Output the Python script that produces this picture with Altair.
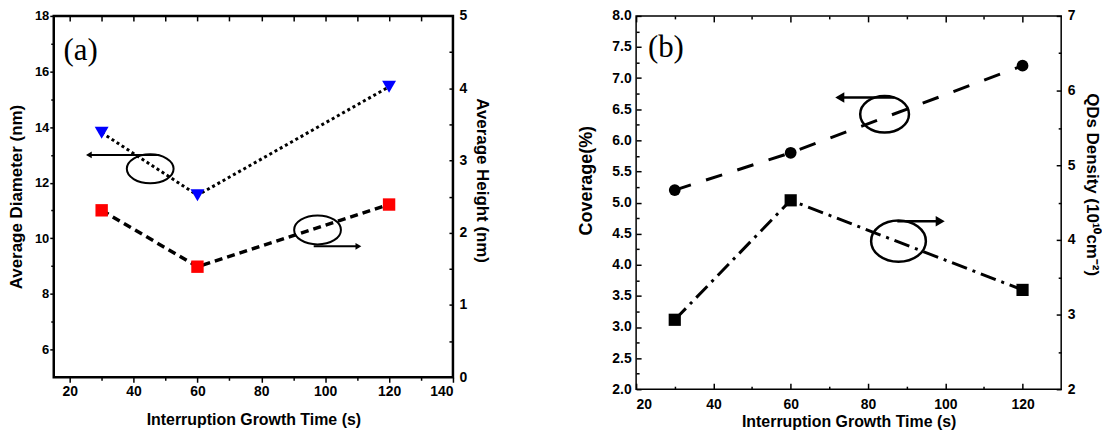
import altair as alt
import pandas as pd

# ---- data ----
time_a = [30, 60, 120]
diameter_nm = [13.8, 11.55, 15.45]
height_nm = [2.31, 1.53, 2.39]

time_b = [30, 60, 120]
coverage_pct = [5.2, 5.8, 7.2]
density_1e10 = [2.93, 4.53, 3.33]

# annotation guides (ellipse + arrow showing which axis each series uses)
ell_a_x = [45.2, 97.6]
ell_a_y = [12.5, 10.3]
ell_a_w = [47, 47]
arr_a_x = [48, 96.4]
arr_a_x2 = [26, 110.4]
arr_a_y = [13.0, 9.71]
arr_a_dir = ["triangle-left", "triangle-right"]

ell_b_x = [84.3, 87.9]
ell_b_y = [6.42, 4.38]
ell_b_w = [49, 55]
arr_b_x = [86.8, 87.6]
arr_b_x2 = [72.7, 98.7]
arr_b_y = [6.69, 4.70]
arr_b_dir = ["triangle-left", "triangle-right"]

FONT = "Liberation Sans, Arial, sans-serif"
W_A, H_A = 401, 363
W_B, H_B = 427, 375


def ellipse_path(k):
    c = 0.5523
    return (f"M -1 0 C -1 {-c*k:.4f} {-c:.4f} {-k:.4f} 0 {-k:.4f} "
            f"C {c:.4f} {-k:.4f} 1 {-c*k:.4f} 1 0 "
            f"C 1 {c*k:.4f} {c:.4f} {k:.4f} 0 {k:.4f} "
            f"C {-c:.4f} {k:.4f} -1 {c*k:.4f} -1 0 Z")


def sc(lo, hi):
    return alt.Scale(domain=[lo, hi], nice=False, zero=False)


def tick_axis(values, size, orient, offset=0):
    return alt.Axis(values=values, labels=False, domain=False, tickSize=size,
                    orient=orient, offset=offset, title=None, grid=False,
                    tickColor="black", tickWidth=1.5)


# ================= panel (a) =================
df_a = pd.DataFrame({"t": time_a, "d": diameter_nm, "h": height_nm})
xs_a = sc(15, 140)
yl_a = sc(5, 18)
yr_a = sc(0, 5)

a_diam_line = alt.Chart(df_a).mark_line(
    color="black", strokeWidth=3, strokeDash=[3, 3]
).encode(
    x=alt.X("t:Q", scale=xs_a, axis=alt.Axis(
        values=list(range(20, 141, 20)), tickSize=5, labelPadding=2, labelFontSize=14,
        title="Interruption Growth Time (s)", titleFontSize=16, titlePadding=13,
        orient="bottom")),
    y=alt.Y("d:Q", scale=yl_a, axis=alt.Axis(
        values=list(range(6, 19, 2)), tickSize=4, labelPadding=1, labelFontSize=13,
        title="Average Diameter (nm)", titleFontSize=17, titlePadding=9, orient="left")),
)
a_diam_pts = alt.Chart(df_a).mark_point(
    shape="triangle-down", filled=True, color="#0000ff", size=195, opacity=1
).encode(x=alt.X("t:Q", scale=xs_a, axis=None), y=alt.Y("d:Q", scale=yl_a, axis=None))

a_h_line = alt.Chart(df_a).mark_line(
    color="black", strokeWidth=3.5, strokeDash=[8, 5]
).encode(
    x=alt.X("t:Q", scale=xs_a, axis=None),
    y=alt.Y("h:Q", scale=yr_a, axis=alt.Axis(
        values=[0, 1, 2, 3, 4, 5], ticks=False, tickSize=0, labelPadding=6,
        labelFontSize=14, title="Average Height (nm)", titleFontSize=17,
        titlePadding=6, orient="right", titleY=165)),
)
a_h_pts = alt.Chart(df_a).mark_point(
    shape="square", filled=True, color="#ff0000", size=155, opacity=1
).encode(x=alt.X("t:Q", scale=xs_a, axis=None), y=alt.Y("h:Q", scale=yr_a, axis=None))

a_minor = alt.Chart(df_a).mark_point(opacity=0).encode(
    x=alt.X("t:Q", scale=xs_a, axis=tick_axis(list(range(30, 140, 20)), 3, "bottom")),
    y=alt.Y("d:Q", scale=yl_a, axis=tick_axis(list(range(7, 18, 2)), 3, "left")),
)
a_inner = alt.Chart(df_a).mark_point(opacity=0).encode(
    x=alt.X("t:Q", scale=xs_a, axis=tick_axis(list(range(20, 140, 10)), 5, "bottom", -H_A)),
    y=alt.Y("h:Q", scale=yr_a, axis=tick_axis([v / 2 for v in range(1, 10)], 4, "left", -W_A)),
)

ann_a = pd.DataFrame({"ex": ell_a_x, "ey": ell_a_y, "ew": [w * w for w in ell_a_w],
                      "ax": arr_a_x, "ax2": arr_a_x2, "ay": arr_a_y, "shape": arr_a_dir})
a_ell = alt.Chart(ann_a).mark_point(
    shape=ellipse_path(0.62), filled=False, color="black", strokeWidth=2, opacity=1
).encode(x=alt.X("ex:Q", scale=xs_a, axis=None), y=alt.Y("ey:Q", scale=yl_a, axis=None),
         size=alt.Size("ew:Q", scale=None, legend=None))
a_arr = alt.Chart(ann_a).mark_rule(color="black", strokeWidth=2).encode(
    x=alt.X("ax:Q", scale=xs_a, axis=None), x2="ax2:Q",
    y=alt.Y("ay:Q", scale=yl_a, axis=None))
a_head = alt.Chart(ann_a).mark_point(filled=True, color="black", size=45, opacity=1).encode(
    x=alt.X("ax2:Q", scale=xs_a, axis=None), y=alt.Y("ay:Q", scale=yl_a, axis=None),
    shape=alt.Shape("shape:N", scale=None, legend=None))
a_label = alt.Chart(pd.DataFrame({"x": [23.4], "y": [16.75], "s": ["(a)"]})).mark_text(
    font="Liberation Serif", fontSize=31, color="black"
).encode(x=alt.X("x:Q", scale=xs_a, axis=None), y=alt.Y("y:Q", scale=yl_a, axis=None), text="s:N")

panel_a = alt.layer(
    a_minor, a_inner, a_diam_line, a_h_line, a_ell, a_arr, a_head,
    a_diam_pts, a_h_pts, a_label
).resolve_scale(x="independent", y="independent").properties(
    width=W_A, height=H_A, view=alt.ViewBackground(stroke="black", strokeWidth=2.5)
)

# ================= panel (b) =================
df_b = pd.DataFrame({"t": time_b, "c": coverage_pct, "n": density_1e10})
xs_b = sc(20, 130)
yl_b = sc(2, 8)
yr_b = sc(2, 7)

b_cov_line = alt.Chart(df_b).mark_line(
    color="black", strokeWidth=3, strokeDash=[17, 16]
).encode(
    x=alt.X("t:Q", scale=xs_b, axis=alt.Axis(
        values=list(range(20, 121, 20)), ticks=False, tickSize=0, labelPadding=8,
        labelFontSize=14, title="Interruption Growth Time (s)", titleFontSize=16,
        titlePadding=2, orient="bottom")),
    y=alt.Y("c:Q", scale=yl_b, axis=alt.Axis(
        values=[2 + 0.5 * i for i in range(13)], format=".1f", ticks=False, tickSize=0,
        labelPadding=5, labelFontSize=14, title="Coverage(%)", titleFontSize=18,
        titlePadding=16, orient="left", titleY=165)),
)
b_cov_pts = alt.Chart(df_b).mark_point(
    shape="circle", filled=True, color="black", size=140, opacity=1
).encode(x=alt.X("t:Q", scale=xs_b, axis=None), y=alt.Y("c:Q", scale=yl_b, axis=None))

b_den_line = alt.Chart(df_b).mark_line(
    color="black", strokeWidth=3, strokeDash=[16, 6, 3, 6]
).encode(
    x=alt.X("t:Q", scale=xs_b, axis=None),
    y=alt.Y("n:Q", scale=yr_b, axis=alt.Axis(
        values=[2, 3, 4, 5, 6, 7], ticks=False, tickSize=0, labelPadding=6,
        labelFontSize=14, title="QDs Density (10¹⁰cm⁻²)", titleFontSize=17,
        titlePadding=8, orient="right", titleY=169)),
)
b_den_pts = alt.Chart(df_b).mark_point(
    shape="square", filled=True, color="black", size=150, opacity=1
).encode(x=alt.X("t:Q", scale=xs_b, axis=None), y=alt.Y("n:Q", scale=yr_b, axis=None))

b_ticks1 = alt.Chart(df_b).mark_point(opacity=0).encode(
    x=alt.X("t:Q", scale=xs_b, axis=tick_axis(list(range(20, 121, 20)), 6, "top", -H_B)),
    y=alt.Y("c:Q", scale=yl_b, axis=tick_axis([2 + 0.5 * i for i in range(13)], 5, "right", -W_B)),
)
b_ticks2 = alt.Chart(df_b).mark_point(opacity=0).encode(
    x=alt.X("t:Q", scale=xs_b, axis=tick_axis(list(range(30, 130, 20)), 3, "top", -H_B)),
    y=alt.Y("c:Q", scale=yl_b, axis=tick_axis([2.25 + 0.5 * i for i in range(12)], 3, "right", -W_B)),
)
b_ticks3 = alt.Chart(df_b).mark_point(opacity=0).encode(
    x=alt.X("t:Q", scale=xs_b, axis=tick_axis(list(range(20, 121, 20)), 6, "bottom", -H_B)),
    y=alt.Y("n:Q", scale=yr_b, axis=tick_axis([2, 3, 4, 5, 6, 7], 5, "left", -W_B)),
)
b_ticks4 = alt.Chart(df_b).mark_point(opacity=0).encode(
    x=alt.X("t:Q", scale=xs_b, axis=tick_axis(list(range(30, 130, 20)), 3, "bottom", -H_B)),
    y=alt.Y("n:Q", scale=yr_b, axis=tick_axis([2.5, 3.5, 4.5, 5.5, 6.5], 3, "left", -W_B)),
)

ann_b = pd.DataFrame({"ex": ell_b_x, "ey": ell_b_y, "ew": [w * w for w in ell_b_w],
                      "ax": arr_b_x, "ax2": arr_b_x2, "ay": arr_b_y, "shape": arr_b_dir})
b_ell = alt.Chart(ann_b).mark_point(
    shape=ellipse_path(0.75), filled=False, color="black", strokeWidth=2.5, opacity=1
).encode(x=alt.X("ex:Q", scale=xs_b, axis=None), y=alt.Y("ey:Q", scale=yl_b, axis=None),
         size=alt.Size("ew:Q", scale=None, legend=None))
b_arr = alt.Chart(ann_b).mark_rule(color="black", strokeWidth=2.5).encode(
    x=alt.X("ax:Q", scale=xs_b, axis=None), x2="ax2:Q",
    y=alt.Y("ay:Q", scale=yl_b, axis=None))
b_head = alt.Chart(ann_b).mark_point(filled=True, color="black", size=110, opacity=1).encode(
    x=alt.X("ax2:Q", scale=xs_b, axis=None), y=alt.Y("ay:Q", scale=yl_b, axis=None),
    shape=alt.Shape("shape:N", scale=None, legend=None))
b_label = alt.Chart(pd.DataFrame({"x": [27.7], "y": [7.49], "s": ["(b)"]})).mark_text(
    font="Liberation Serif", fontSize=31, color="black"
).encode(x=alt.X("x:Q", scale=xs_b, axis=None), y=alt.Y("y:Q", scale=yl_b, axis=None), text="s:N")

panel_b = alt.layer(
    b_ticks1, b_ticks2, b_ticks3, b_ticks4, b_cov_line, b_den_line,
    b_ell, b_arr, b_head, b_cov_pts, b_den_pts, b_label
).resolve_scale(x="independent", y="independent").properties(
    width=W_B, height=H_B, view=alt.ViewBackground(stroke="black", strokeWidth=1.5)
)

chart = alt.hconcat(panel_a, panel_b, spacing=184, bounds="flush").properties(
    padding={"left": 6, "top": 6, "right": 0, "bottom": 0}
).configure_axis(
    labelFont=FONT, labelFontWeight="bold", labelColor="black",
    titleFont=FONT, titleFontWeight="bold",
    titleColor="black", domain=False, grid=False, tickColor="black", tickWidth=1.5,
).configure_view(stroke="black")

chart.save("out.html", embed_options={"renderer": "svg", "actions": False})
